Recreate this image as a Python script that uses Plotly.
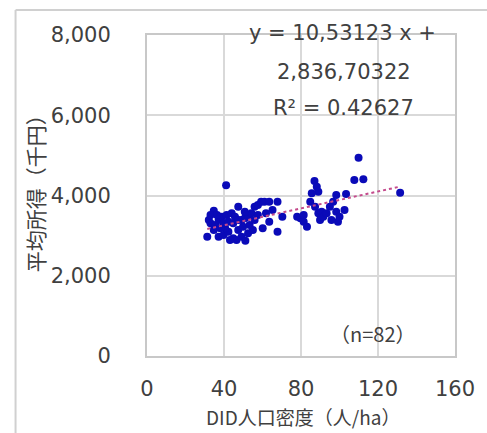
import plotly.graph_objects as go

# DID population density (persons/ha) and average income (thousand yen), n=82
density = [
    41.1, 34.7, 31.3, 32.1, 33.0, 35.5, 37.2, 38.9, 41.4, 44.0,
    45.7, 47.4, 49.1, 50.8, 52.5, 54.2, 55.9, 57.6, 59.3, 61.0,
    63.5, 67.8, 65.2, 63.5, 60.1, 67.8, 70.3, 37.2, 39.8, 42.3,
    44.8, 46.5, 49.1, 51.1, 52.5, 55.0, 47.4, 40.6, 34.7, 87.0,
    88.2, 89.0, 85.6, 84.8, 87.3, 78.0, 79.7, 81.4, 83.1, 89.0,
    90.7, 89.9, 91.6, 98.3, 103.4, 96.7, 95.0, 98.3, 100.0, 99.2,
    102.6, 93.3, 95.8, 109.9, 107.7, 112.4, 131.5, 33.0, 36.4, 39.8,
    42.3, 44.8, 47.4, 49.9, 53.3, 55.9, 57.6, 43.1, 38.1, 50.8,
    61.8, 81.4,
]
income = [
    4253, 3622, 2974, 3389, 3306, 3265, 3389, 3472, 3514, 3556,
    3472, 3722, 3389, 3431, 3472, 3556, 3722, 3763, 3846, 3846,
    3846, 3846, 3639, 3348, 3182, 3099, 3472, 2974, 3016, 3099,
    2933, 2891, 2974, 2874, 3057, 3140, 3140, 3182, 3140, 4361,
    4220, 4096, 4054, 3846, 3722, 3472, 3431, 3348, 3223, 3556,
    3597, 3389, 3472, 4012, 4037, 3846, 3722, 3597, 3472, 3348,
    3639, 3556, 3389, 4943, 4386, 4403, 4071, 3514, 3514, 3306,
    3348, 3306, 3389, 3223, 3265, 3389, 3514, 2891, 3182, 3597,
    3556, 3514,
]

# Linear trend as stated on the chart
slope = 10.53123
intercept = 2836.70322
r_squared = 0.42627

x_ticks = [0, 40, 80, 120, 160]
y_ticks = [0, 2000, 4000, 6000, 8000]
y_tick_text = ["0", "2,000", "4,000", "6,000", "8,000"]

trend_x = [min(density), max(density)]
trend_y = [slope * v + intercept for v in trend_x]

fig = go.Figure()
fig.add_trace(go.Scatter(
    x=density, y=income, mode="markers",
    marker=dict(size=8, color="#0a0ab8", line=dict(width=0)),
    showlegend=False,
))
fig.add_trace(go.Scatter(
    x=trend_x, y=trend_y, mode="lines",
    line=dict(color="#c44a8c", width=2, dash="dot"),
    showlegend=False,
))

num_font = dict(family="DejaVu Sans, Noto Sans CJK JP", size=21, color="#404040")
jp_font = dict(family="Noto Sans CJK JP, DejaVu Sans", size=19, color="#404040")
n_font = dict(family="Noto Sans CJK JP, DejaVu Sans", size=20, color="#404040")

axis_common = dict(
    showgrid=True, gridcolor="#d9d9d9", gridwidth=2,
    showline=True, linecolor="#c8c8c8", linewidth=2, mirror=True,
    zeroline=False, ticks="", tickfont=num_font,
)

fig.update_xaxes(range=[0, 160], tickvals=x_ticks, ticklabelstandoff=13, **axis_common)
fig.update_yaxes(range=[0, 8000], tickvals=y_ticks, ticktext=y_tick_text,
                 ticklabelstandoff=30, **axis_common)

# plot area in pixels: x 147..461, y 35..356
def px(xp):
    return (xp - 147) / 314

def py(yp):
    return (356 - yp) / 321

annotations = [
    dict(text="y = 10,53123 x +", x=px(346), y=py(33)),
    dict(text="2,836,70322", x=px(348), y=py(72)),
    dict(text="R² = 0.42627", x=px(347), y=py(108)),
]
for a in annotations:
    a.update(xref="paper", yref="paper", showarrow=False, font=num_font,
             xanchor="center", yanchor="middle")

annotations += [
    dict(text="（n=82）", x=px(377), y=py(333), xref="paper", yref="paper",
         showarrow=False, font=n_font, xanchor="center", yanchor="middle"),
    dict(text="DID人口密度（人/ha）", x=px(306), y=py(416),
         xref="paper", yref="paper", showarrow=False, font=jp_font,
         xanchor="center", yanchor="middle"),
    dict(text="平均所得（千円）", x=px(33), y=py(188),
         xref="paper", yref="paper", showarrow=False,
         font=dict(jp_font, size=21),
         textangle=-90, xanchor="center", yanchor="middle"),
]

fig.update_layout(
    width=487, height=433,
    margin=dict(l=147, r=26, t=35, b=77),
    paper_bgcolor="white", plot_bgcolor="white",
    annotations=annotations,
    shapes=[
        dict(type="line", xref="paper", yref="paper",
             x0=px(13), x1=px(13), y0=py(10), y1=py(440),
             line=dict(color="#d0d0d0", width=2)),
        dict(type="line", xref="paper", yref="paper",
             x0=px(13), x1=px(495), y0=py(10), y1=py(10),
             line=dict(color="#d0d0d0", width=2)),
    ],
)

fig.write_html("out.html")
